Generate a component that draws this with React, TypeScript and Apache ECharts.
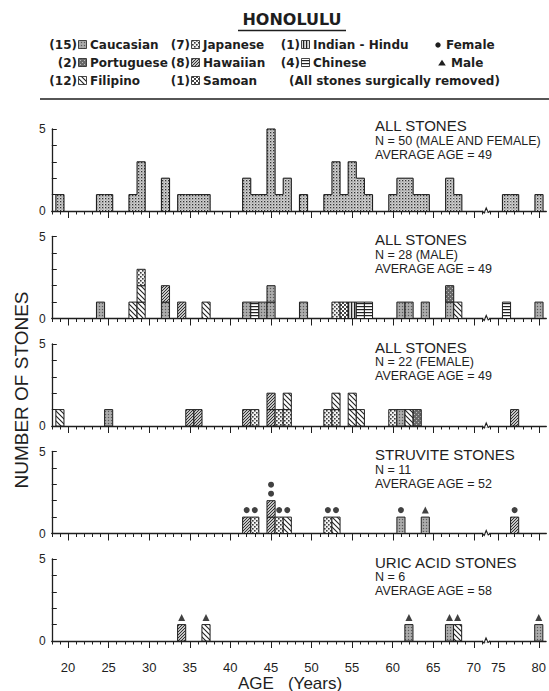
import React, { useEffect, useRef } from 'react';
import * as echarts from 'echarts';

// ---------- data ----------
const TICK_AGES = [20, 25, 30, 35, 40, 45, 50, 55, 60, 65, 70, 75, 80];
const TICK_LABELS = ['20', '25', '30', '35', '40', '45', '50', '55', '60', '65', '70', '75', '80'];
const SKIPPED_AGES = [72, 73]; // axis break

const ALL_AGES = [19, 24, 25, 28, 29, 32, 34, 35, 36, 37, 42, 43, 44, 45, 46, 47, 49, 52, 53, 54, 55, 56, 57, 60, 61, 62, 63, 64, 67, 68, 76, 77, 80];
const ALL_COUNTS = [1, 1, 1, 1, 3, 2, 1, 1, 1, 1, 2, 1, 1, 5, 1, 2, 1, 1, 3, 1, 3, 2, 1, 1, 2, 2, 1, 1, 2, 1, 1, 1, 1];

const MALE_AGES = [24, 28, 29, 29, 29, 32, 32, 34, 37, 42, 43, 44, 45, 45, 49, 53, 54, 55, 56, 57, 61, 62, 64, 67, 67, 68, 76, 80];
const MALE_GROUPS = ['CAU', 'FIL', 'FIL', 'FIL', 'JAP', 'CAU', 'HAW', 'HAW', 'FIL', 'CAU', 'CHI', 'CAU', 'CAU', 'CAU', 'CAU', 'JAP', 'SAM', 'IND', 'CHI', 'CHI', 'CAU', 'CAU', 'CAU', 'CAU', 'POR', 'FIL', 'CHI', 'CAU'];

const FEMALE_AGES = [19, 25, 35, 36, 42, 43, 45, 45, 46, 47, 47, 52, 53, 53, 55, 55, 56, 60, 61, 62, 63, 77];
const FEMALE_GROUPS = ['FIL', 'CAU', 'HAW', 'HAW', 'HAW', 'JAP', 'HAW', 'HAW', 'JAP', 'JAP', 'FIL', 'JAP', 'JAP', 'FIL', 'FIL', 'FIL', 'FIL', 'JAP', 'CAU', 'FIL', 'POR', 'HAW'];

const STRUVITE_AGES = [42, 43, 45, 45, 46, 47, 52, 53, 61, 64, 77];
const STRUVITE_GROUPS = ['HAW', 'JAP', 'HAW', 'HAW', 'JAP', 'FIL', 'JAP', 'FIL', 'CAU', 'CAU', 'HAW'];
const STRUVITE_SEX = ['F', 'F', 'F', 'F', 'F', 'F', 'F', 'F', 'F', 'M', 'F'];

const URIC_AGES = [34, 37, 62, 67, 68, 80];
const URIC_GROUPS = ['HAW', 'FIL', 'CAU', 'CAU', 'FIL', 'CAU'];
const URIC_SEX = ['M', 'M', 'M', 'M', 'M', 'M'];

const LEGEND_GROUPS = ['CAU', 'JAP', 'IND', 'POR', 'HAW', 'CHI', 'FIL', 'SAM'];
const LEGEND_COUNTS = ['(15)', '(7)', '(1)', '(2)', '(8)', '(4)', '(12)', '(1)'];
const LEGEND_NAMES = ['Caucasian', 'Japanese', 'Indian - Hindu', 'Portuguese', 'Hawaiian', 'Chinese', 'Filipino', 'Samoan'];

const PANEL_TITLES = ['ALL STONES', 'ALL STONES', 'ALL STONES', 'STRUVITE STONES', 'URIC ACID STONES'];
const PANEL_N = ['N = 50 (MALE AND FEMALE)', 'N = 28 (MALE)', 'N = 22 (FEMALE)', 'N = 11', 'N = 6'];
const PANEL_AVG = ['AVERAGE AGE = 49', 'AVERAGE AGE = 49', 'AVERAGE AGE = 49', 'AVERAGE AGE = 52', 'AVERAGE AGE = 58'];

// ---------- layout ----------
const FONT = "'Liberation Sans', 'DejaVu Sans', sans-serif";
const LEGEND_FONT = "'DejaVu Sans', 'Liberation Sans', sans-serif";
const ZERO_Y = [211, 318.5, 426, 533.5, 641];
const UNIT = 16.4;
const GRID_LEFT = 51.8;
const GRID_WIDTH = 494.5;
const X_MIN = 18;
const X_MAX = 78.9;
const INK = '#1e1e1e';

const toPos = (age: number) => (age > SKIPPED_AGES[SKIPPED_AGES.length - 1] ? age - SKIPPED_AGES.length : age);
const BREAK_POS = SKIPPED_AGES[0] - 0.5;

function tile(w: number, h: number, bg: string | null, draw: (c: CanvasRenderingContext2D) => void) {
  const c = document.createElement('canvas');
  c.width = w;
  c.height = h;
  const ctx = c.getContext('2d') as CanvasRenderingContext2D;
  if (bg) {
    ctx.fillStyle = bg;
    ctx.fillRect(0, 0, w, h);
  }
  draw(ctx);
  return { image: c.toDataURL(), repeat: 'repeat', imageWidth: w, imageHeight: h };
}

function line(ctx: CanvasRenderingContext2D, pts: number[][], color: string, lw: number) {
  ctx.strokeStyle = color;
  ctx.lineWidth = lw;
  ctx.beginPath();
  ctx.moveTo(pts[0][0], pts[0][1]);
  for (let i = 1; i < pts.length; i++) ctx.lineTo(pts[i][0], pts[i][1]);
  ctx.stroke();
}

function makePatterns() {
  const P: Record<string, any> = {};
  P.ALL = tile(3, 3, '#d0d0d0', (c) => {
    c.fillStyle = '#333333';
    c.fillRect(0, 0, 1.3, 1.3);
    c.fillStyle = '#777777';
    c.fillRect(1.5, 1.5, 1, 1);
  });
  P.CAU = tile(3, 3, '#a3a3a3', (c) => {
    c.fillStyle = '#5a5a5a';
    c.fillRect(0, 0, 1, 1);
    c.fillStyle = '#c8c8c8';
    c.fillRect(1.5, 1.5, 1, 1);
  });
  P.POR = tile(4, 4, '#6a6a6a', (c) => {
    c.fillStyle = '#bdbdbd';
    c.fillRect(0, 0, 1, 1);
    c.fillRect(2, 2, 1, 1);
  });
  P.FIL = tile(5, 5, '#ffffff', (c) => {
    line(c, [[-1, -1], [6, 6]], '#222', 1.1);
    line(c, [[-1, 4], [1, 6]], '#222', 1.1);
    line(c, [[4, -1], [6, 1]], '#222', 1.1);
  });
  P.JAP = tile(4, 4, '#f2f2f2', (c) => {
    c.fillStyle = '#3a3a3a';
    c.fillRect(0, 0, 1.6, 1.6);
    c.fillRect(2, 2, 1.6, 1.6);
  });
  P.HAW = tile(3, 3, '#c4c4c4', (c) => {
    line(c, [[-1, 4], [4, -1]], '#333', 1);
    line(c, [[-1, 1], [1, -1]], '#333', 1);
    line(c, [[2, 4], [4, 2]], '#333', 1);
  });
  P.SAM = tile(4, 4, '#ffffff', (c) => {
    c.fillStyle = '#444';
    c.fillRect(0, 0, 2, 2);
    c.fillRect(2, 2, 2, 2);
  });
  P.IND = tile(3, 3, '#e0e0e0', (c) => {
    c.fillStyle = '#222';
    c.fillRect(0, 0, 1.2, 3);
  });
  P.CHI = tile(3, 3, '#ffffff', (c) => {
    c.fillStyle = '#222';
    c.fillRect(0, 0, 3, 1.2);
  });
  return P;
}

function stackSegments(ages: number[], groups: string[], codes: string[]) {
  const level: Record<number, number> = {};
  return ages.map((a, i) => {
    const p = toPos(a);
    const y0 = level[p] || 0;
    level[p] = y0 + 1;
    return [p, y0, y0 + 1, codes.indexOf(groups[i])];
  });
}

function markerData(ages: number[], sex: string[]) {
  const level: Record<number, number> = {};
  const total: Record<number, number> = {};
  ages.forEach((a) => {
    const p = toPos(a);
    total[p] = (total[p] || 0) + 1;
  });
  return ages.map((a, i) => {
    const p = toPos(a);
    const k = level[p] || 0;
    level[p] = k + 1;
    return {
      value: [p, total[p]],
      symbol: sex[i] === 'F' ? 'circle' : 'triangle',
      symbolSize: sex[i] === 'F' ? 6 : 7,
      symbolOffset: [0, -7 - 9 * k],
    };
  });
}

export default function App() {
  const ref = useRef<HTMLDivElement>(null);
  useEffect(() => {
    if (!ref.current) return;
    const chart = echarts.init(ref.current, undefined, { renderer: 'svg' });
    const PAT = makePatterns();
    const codes = Object.keys(PAT);

    const tickPos = TICK_AGES.map(toPos);
    const labelMap: Record<number, string> = {};
    tickPos.forEach((p, i) => (labelMap[p] = TICK_LABELS[i]));
    const minorPos: number[] = [];
    for (let v = X_MIN; v <= Math.floor(X_MAX); v++) minorPos.push(v);

    const grids: any[] = [];
    const xAxes: any[] = [];
    const yAxes: any[] = [];
    const series: any[] = [];

    for (let i = 0; i < 5; i++) {
      grids.push({ left: GRID_LEFT, width: GRID_WIDTH, top: ZERO_Y[i] - 5 * UNIT, height: 5 * UNIT });
      xAxes.push({
        type: 'value', gridIndex: i, min: X_MIN, max: X_MAX, interval: 1, position: 'bottom',
        axisLine: { show: true, onZero: false, lineStyle: { color: INK, width: 1.3 } },
        axisTick: { show: true, inside: false, length: 3.5, customValues: minorPos, lineStyle: { color: INK, width: 1 } },
        axisLabel: {
          show: i === 4, customValues: tickPos, margin: 20, color: INK, fontSize: 13, fontFamily: FONT,
          formatter: (v: number) => labelMap[v] ?? '',
        },
        splitLine: { show: false },
      });
      xAxes.push({
        type: 'value', gridIndex: i, min: X_MIN, max: X_MAX, interval: 1, position: 'bottom',
        axisLine: { show: false, onZero: false },
        axisTick: { show: true, inside: false, length: 7, customValues: tickPos, lineStyle: { color: INK, width: 1 } },
        axisLabel: { show: false },
        splitLine: { show: false },
      });
      yAxes.push({
        type: 'value', gridIndex: i, min: 0, max: 5, interval: 1,
        axisLine: { show: true, lineStyle: { color: INK, width: 1.3 } },
        axisTick: { show: true, inside: true, length: 5, lineStyle: { color: INK, width: 1 } },
        axisLabel: {
          color: INK, fontSize: 12, fontFamily: FONT, margin: 6,
          formatter: (v: number) => (v === 0 || v === 5 ? String(v) : ''),
        },
        splitLine: { show: false },
      });
    }

    // panel 1: histogram outline
    const countAt: Record<number, number> = {};
    ALL_AGES.forEach((a, i) => (countAt[toPos(a)] = ALL_COUNTS[i]));
    const histData = ALL_AGES.map((a, i) => {
      const p = toPos(a);
      return [p, ALL_COUNTS[i], countAt[p - 1] || 0, countAt[p + 1] || 0];
    });
    series.push({
      type: 'custom', xAxisIndex: 0, yAxisIndex: 0, data: histData, clip: false,
      renderItem: (params: any, api: any) => {
        const x = api.value(0), h = api.value(1), hp = api.value(2), hn = api.value(3);
        const a = api.coord([x - 0.5, 0]);
        const b = api.coord([x + 0.5, h]);
        const children: any[] = [
          { type: 'rect', shape: { x: a[0], y: b[1], width: b[0] - a[0], height: a[1] - b[1] }, style: { fill: PAT.ALL } },
          { type: 'line', shape: { x1: a[0], y1: b[1], x2: b[0], y2: b[1] }, style: { stroke: INK, lineWidth: 1.1 } },
        ];
        if (h > hp) {
          const c = api.coord([x - 0.5, hp]);
          children.push({ type: 'line', shape: { x1: a[0], y1: c[1], x2: a[0], y2: b[1] }, style: { stroke: INK, lineWidth: 1.1 } });
        }
        if (h > hn) {
          const c = api.coord([x + 0.5, hn]);
          children.push({ type: 'line', shape: { x1: b[0], y1: c[1], x2: b[0], y2: b[1] }, style: { stroke: INK, lineWidth: 1.1 } });
        }
        return { type: 'group', children };
      },
    });

    const stacked = [
      stackSegments(MALE_AGES, MALE_GROUPS, codes),
      stackSegments(FEMALE_AGES, FEMALE_GROUPS, codes),
      stackSegments(STRUVITE_AGES, STRUVITE_GROUPS, codes),
      stackSegments(URIC_AGES, URIC_GROUPS, codes),
    ];
    stacked.forEach((data, k) => {
      const gi = k + 1;
      series.push({
        type: 'custom', xAxisIndex: gi * 2, yAxisIndex: gi, data, clip: false,
        renderItem: (params: any, api: any) => {
          const x = api.value(0), y0 = api.value(1), y1 = api.value(2), g = api.value(3);
          const a = api.coord([x - 0.5, y0]);
          const b = api.coord([x + 0.5, y1]);
          return {
            type: 'rect',
            shape: { x: a[0], y: b[1], width: b[0] - a[0], height: a[1] - b[1] },
            style: { fill: PAT[codes[g]], stroke: INK, lineWidth: 1 },
          };
        },
      });
    });

    series.push({
      type: 'scatter', xAxisIndex: 6, yAxisIndex: 3, data: markerData(STRUVITE_AGES, STRUVITE_SEX),
      itemStyle: { color: '#111' }, clip: false, z: 5,
    });
    series.push({
      type: 'scatter', xAxisIndex: 8, yAxisIndex: 4, data: markerData(URIC_AGES, URIC_SEX),
      itemStyle: { color: '#111' }, clip: false, z: 5,
    });

    // axis break marks
    for (let i = 0; i < 5; i++) {
      series.push({
        type: 'custom', xAxisIndex: i * 2, yAxisIndex: i, data: [[BREAK_POS, 0]], clip: false, z: 6,
        renderItem: (params: any, api: any) => {
          const p = api.coord([api.value(0), api.value(1)]);
          return {
            type: 'group',
            children: [
              { type: 'rect', shape: { x: p[0] - 3, y: p[1] - 1.2, width: 6, height: 2.4 }, style: { fill: '#fff' } },
              {
                type: 'polyline',
                shape: { points: [[p[0] - 4, p[1]], [p[0] - 2, p[1] + 2], [p[0], p[1] - 3], [p[0] + 2, p[1] + 1.5], [p[0] + 4, p[1]]] },
                style: { stroke: INK, lineWidth: 1.1, fill: null },
              },
            ],
          };
        },
      });
    }

    // graphics: header, legend, panel texts, axis titles
    const g: any[] = [];
    const txt = (text: string, x: number, y: number, size: number, opts: any = {}) => ({
      type: 'text', x, y, rotation: opts.rotation || 0,
      style: {
        text, fill: INK, fontSize: size, fontFamily: opts.font || FONT, fontWeight: opts.bold ? 'bold' : 'normal',
        align: opts.align || 'left', verticalAlign: 'middle',
      },
    });
    g.push(txt('HONOLULU', 292, 19, 16, { bold: true, align: 'center', font: LEGEND_FONT }));
    g.push({ type: 'line', shape: { x1: 238, y1: 30.5, x2: 346, y2: 30.5 }, style: { stroke: INK, lineWidth: 1.6 } });

    const rowsY = [45, 63, 81];
    const colCountRight = [77, 190, 300];
    const LF = { bold: true, font: LEGEND_FONT };
    LEGEND_GROUPS.forEach((code, i) => {
      const r = Math.floor(i / 3), c = i % 3;
      const y = rowsY[r];
      const cx = colCountRight[c];
      g.push(txt(LEGEND_COUNTS[i], cx, y, 12, { ...LF, align: 'right' }));
      g.push({ type: 'rect', shape: { x: cx + 1.5, y: y - 4.5, width: 8, height: 8 }, style: { fill: PAT[code], stroke: INK, lineWidth: 0.8 } });
      g.push(txt(LEGEND_NAMES[i], cx + 13, y, 12, LF));
    });
    g.push({ type: 'circle', shape: { cx: 438, cy: rowsY[0], r: 2.7 }, style: { fill: INK } });
    g.push(txt('Female', 446, rowsY[0], 12, LF));
    g.push({ type: 'polygon', shape: { points: [[442, rowsY[1] - 3.2], [445.8, rowsY[1] + 2.6], [438.2, rowsY[1] + 2.6]] }, style: { fill: INK } });
    g.push(txt('Male', 451, rowsY[1], 12, LF));
    g.push(txt('(All stones surgically removed)', 289, rowsY[2], 12, LF));
    g.push({ type: 'line', shape: { x1: 40, y1: 99, x2: 549, y2: 99 }, style: { stroke: INK, lineWidth: 1.6 } });

    for (let i = 0; i < 5; i++) {
      const top = ZERO_Y[i] - 5 * UNIT;
      const off = i === 0 ? [-4, 11.5, 25.5] : [3, 18, 32];
      g.push(txt(PANEL_TITLES[i], 375, top + off[0], 15));
      g.push(txt(PANEL_N[i], 375, top + off[1], 12.5));
      g.push(txt(PANEL_AVG[i], 375, top + off[2], 12.5));
    }
    g.push(txt('NUMBER OF STONES', 21, 390, 19, { align: 'center', rotation: Math.PI / 2 }));
    g.push(txt('AGE   (Years)', 290, 683, 17, { align: 'center' }));

    chart.setOption({
      animation: false,
      backgroundColor: '#ffffff',
      grid: grids,
      xAxis: xAxes,
      yAxis: yAxes,
      series,
      graphic: { elements: g },
    });
    return () => chart.dispose();
  }, []);
  return <div ref={ref} style={{ position: 'absolute', left: 0, top: 0, width: 549, height: 691, background: '#fff' }} />;
}
